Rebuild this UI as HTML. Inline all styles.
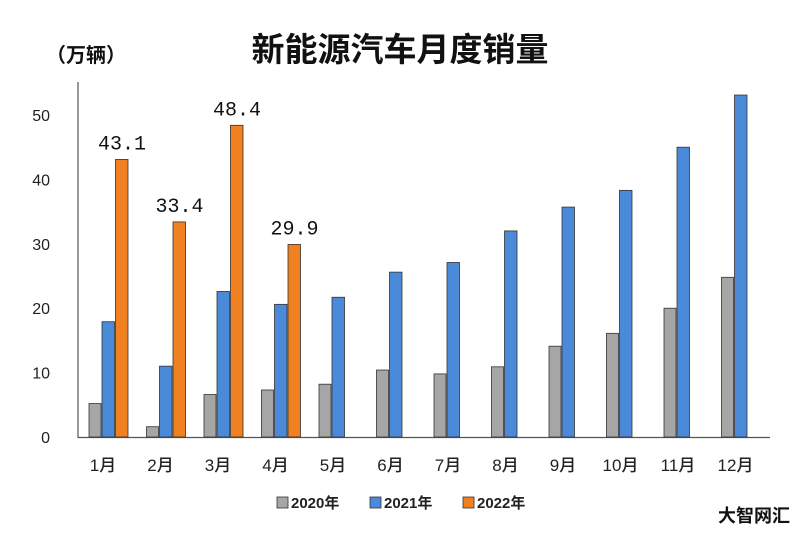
<!DOCTYPE html>
<html><head><meta charset="utf-8"><style>
body{margin:0;background:#fff;}
svg{display:block;font-family:"Liberation Sans","Noto Sans CJK SC",sans-serif;}
</style></head><body>
<svg id="s" width="800" height="541" viewBox="0 0 800 541" xmlns="http://www.w3.org/2000/svg">
<rect width="800" height="541" fill="#fff"/>
<text x="400" y="61" text-anchor="middle" font-size="33" font-weight="bold" fill="#111">新能源汽车月度销量</text>
<text x="86" y="62" text-anchor="middle" font-size="20" font-weight="bold" fill="#111">（万辆）</text>
<line x1="78" y1="82" x2="78" y2="438" stroke="#555" stroke-width="1.2"/>
<line x1="78" y1="437.5" x2="770" y2="437.5" stroke="#555" stroke-width="1.2"/>
<g id="g"></g>
<g font-size="15" font-weight="bold" fill="#222">
<rect x="277" y="497" width="11" height="11" fill="#a6a6a6" stroke="#333" stroke-width="0.8"/><text x="291" y="508">2020年</text>
<rect x="370" y="497" width="11" height="11" fill="#4a8ad8" stroke="#333" stroke-width="0.8"/><text x="384" y="508">2021年</text>
<rect x="463" y="497" width="11" height="11" fill="#f08020" stroke="#333" stroke-width="0.8"/><text x="477" y="508">2022年</text>
</g>
<text x="790" y="522" text-anchor="end" font-size="18" font-weight="bold" fill="#111">大智网汇</text>
</svg>
<script>
var g=document.getElementById('g'),h='';
function y(v){return 437-v*6.44;}
for(var t=0;t<=50;t+=10)h+='<text x="50" y="'+(y(t)+6)+'" text-anchor="end" font-size="16" fill="#222">'+t+'</text>';
var a=[5.2,1.6,6.6,7.3,8.2,10.4,9.8,10.9,14.1,16.1,20.0,24.8],
b=[17.9,11.0,22.6,20.6,21.7,25.6,27.1,32.0,35.7,38.3,45.0,53.1],
c=[43.1,33.4,48.4,29.9];
for(var i=0;i<12;i++){var x=89+i*57.5;
h+='<rect x="'+x+'" y="'+y(a[i])+'" width="12" height="'+(437-y(a[i]))+'" fill="#a6a6a6" stroke="#333" stroke-width="0.8"/>';
h+='<rect x="'+(x+13)+'" y="'+y(b[i])+'" width="12.5" height="'+(437-y(b[i]))+'" fill="#4a8ad8" stroke="#333" stroke-width="0.8"/>';
if(i<4){h+='<rect x="'+(x+26.5)+'" y="'+y(c[i])+'" width="12.5" height="'+(437-y(c[i]))+'" fill="#f08020" stroke="#333" stroke-width="0.8"/>';
h+='<text x="'+(x+33)+'" y="'+(y(c[i])-10)+'" text-anchor="middle" font-size="20" fill="#111" font-family="Liberation Mono,monospace">'+c[i].toFixed(1)+'</text>';}
h+='<text x="'+(x+14)+'" y="471" text-anchor="middle" font-size="17" font-weight="500" fill="#222">'+(i+1)+'月</text>';}
g.innerHTML=h;
</script>
</body></html>
